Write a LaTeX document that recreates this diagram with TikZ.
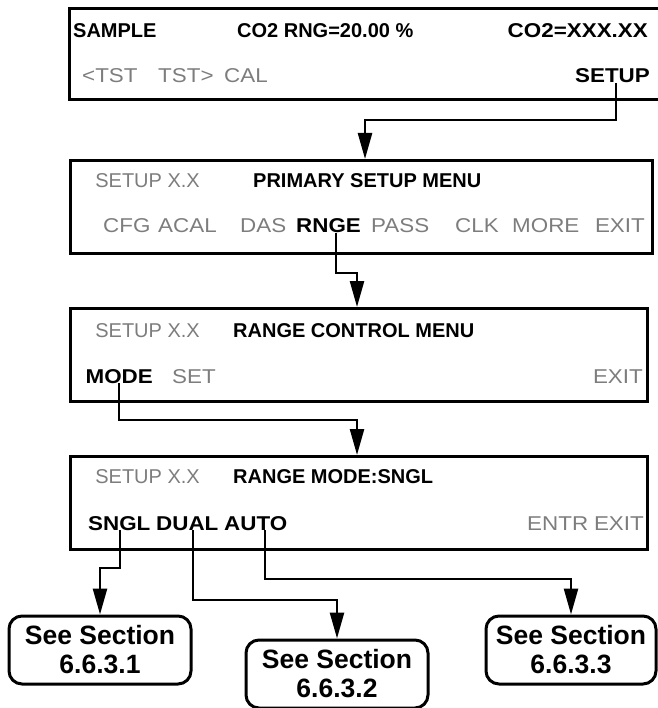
\documentclass[tikz,border=0pt]{standalone}
\usepackage{fontspec}
\setmainfont{Liberation Sans}
\newfontfamily\widefont[FakeStretch=1.12]{Liberation Sans}
\usetikzlibrary{arrows.meta}
\definecolor{menugray}{RGB}{125,125,125}
\tikzset{
  boxline/.style={line width=3pt},
  arr/.style={line width=2.5pt,-{Triangle[width=14pt,length=26pt]}},
  gtxt/.style={anchor=base west,inner sep=0pt,text=menugray,font=\fontsize{20}{24}\selectfont},
  btxt/.style={anchor=base west,inner sep=0pt,text=black,font=\fontsize{20}{24}\selectfont\bfseries},
  gkey/.style={anchor=base west,inner sep=0pt,text=menugray,font=\widefont\fontsize{20}{24}\selectfont},
  bkey/.style={anchor=base west,inner sep=0pt,text=black,font=\widefont\fontsize{20}{24}\selectfont\bfseries},
  secbox/.style={draw,line width=3pt,rounded corners=13pt,align=center,inner sep=0pt,
    font=\fontsize{26.5}{28}\selectfont\bfseries},
}
\begin{document}
\begin{tikzpicture}[x=1pt,y=-1pt]
\useasboundingbox (0,0) rectangle (657,708);
% box 1
\draw[boxline] (662,9) -- (69,9) -- (69,100) -- (662,100);
\node[btxt] (sample) at (73,38) {SAMPLE};
\node[btxt] (rng) at (237,38) {CO2 RNG=20.00 \%};
\node[bkey,anchor=base east] (co2) at (648,38) {CO2=XXX.XX};
\node[gkey] (tst1) at (82,83) {<TST};
\node[gkey] (tst2) at (158,83) {TST>};
\node[gkey] (cal) at (224,83) {CAL};
\node[bkey,anchor=base east] (setup) at (650,83) {SETUP};
% box 2
\node[draw,boxline,minimum width=582pt,minimum height=93pt,anchor=north west] (box2) at (69,159) {};
\node[gtxt,anchor=base east] (s2) at (200,188) {SETUP X.X};
\node[btxt] (t2) at (253,188) {PRIMARY SETUP MENU};
\node[gkey] (cfg) at (103,233) {CFG};
\node[gkey] (acal) at (158,233) {ACAL};
\node[gkey] (das) at (240,233) {DAS};
\node[bkey] (rnge) at (296,233) {RNGE};
\node[gkey] (pass) at (371,233) {PASS};
\node[gkey] (clk) at (455,233) {CLK};
\node[gkey] (more) at (512,233) {MORE};
\node[gkey,anchor=base east] (exit2) at (645,233) {EXIT};
% box 3
\node[draw,boxline,minimum width=577pt,minimum height=93pt,anchor=north west] (box3) at (69,307) {};
\node[gtxt,anchor=base east] (s3) at (200,337) {SETUP X.X};
\node[btxt] (t3) at (233,337) {RANGE CONTROL MENU};
\node[bkey,anchor=base east] (mode) at (153,383) {MODE};
\node[gkey] (set) at (172,383) {SET};
\node[gkey,anchor=base east] (exit3) at (643,383) {EXIT};
% box 4
\node[draw,boxline,minimum width=577pt,minimum height=93pt,anchor=north west] (box4) at (69,455) {};
\node[gtxt,anchor=base east] (s4) at (200,483) {SETUP X.X};
\node[btxt] (t4) at (233,483) {RANGE MODE:SNGL};
\node[bkey] (sngl) at (88,530) {SNGL};
\node[bkey] (dual) at (156,530) {DUAL};
\node[bkey] (auto) at (224,530) {AUTO};
\node[gkey] (entr) at (527,530) {ENTR};
\node[gkey,anchor=base east] (exit4) at (644,530) {EXIT};
% section boxes
\node[secbox,minimum width=182pt,minimum height=68pt] (sec1) at (100,650) {See Section\\[1pt]6.6.3.1};
\node[secbox,minimum width=182pt,minimum height=68pt] (sec2) at (337,674) {See Section\\[1pt]6.6.3.2};
\node[secbox,minimum width=170pt,minimum height=68pt] (sec3) at (571,650) {See Section\\[1pt]6.6.3.3};
% connectors
\draw[arr] (setup.south -| 616,0) |- (365,120) -- (box2.north -| 365,0);
\draw[arr] (rnge.south -| 336,0) |- (357,273) -- (box3.north -| 357,0);
\draw[arr] (mode.south -| 119,0) |- (357,420) -- (box4.north -| 357,0);
\draw[arr] (sngl.south -| 120,0) |- (100,568) -- (sec1.north);
\draw[arr] (dual.south -| 193,0) |- (337,600) -- (sec2.north);
\draw[arr] (auto.south -| 265,0) |- (571,579) -- (sec3.north);
\end{tikzpicture}
\end{document}
